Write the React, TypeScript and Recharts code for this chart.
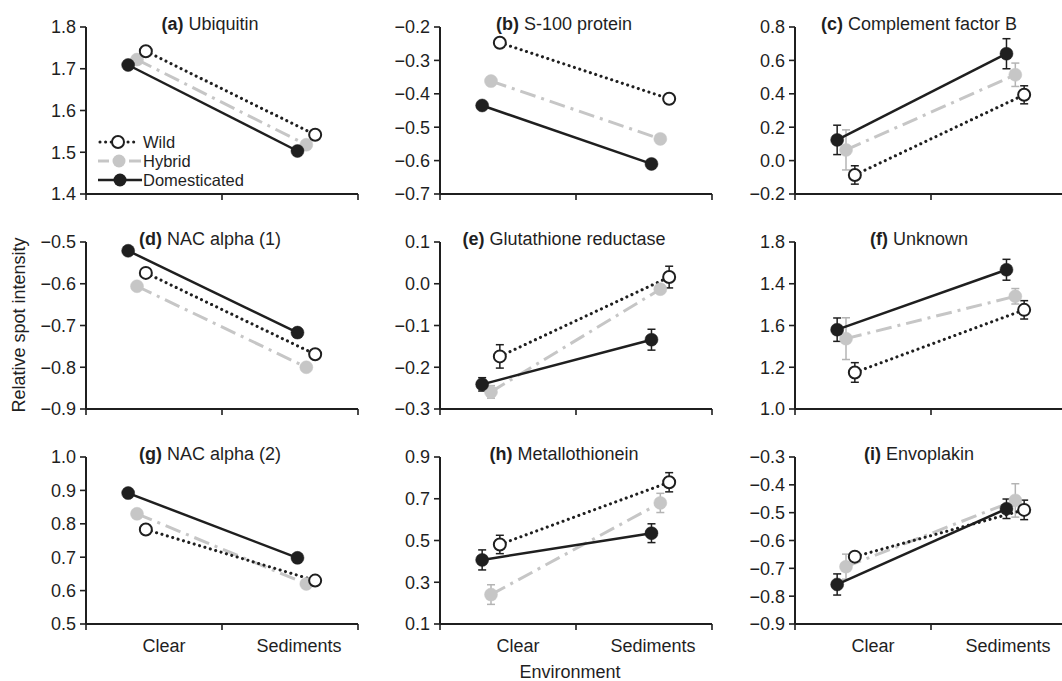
import React from 'react';
import { LineChart, Line, XAxis, YAxis, ErrorBar } from 'recharts';

const FONT = '"Liberation Sans", Arial, Helvetica, sans-serif';
const INK = '#1f1f1f';
const GREY = '#c6c6c6';

const environments = ['Clear', 'Sediments'];
const groups = ['Wild', 'Hybrid', 'Domesticated'];

const panelLetters = ['(a)', '(b)', '(c)', '(d)', '(e)', '(f)', '(g)', '(h)', '(i)'];
const panelNames = [
  'Ubiquitin',
  'S-100 protein',
  'Complement factor B',
  'NAC alpha (1)',
  'Glutathione reductase',
  'Unknown',
  'NAC alpha (2)',
  'Metallothionein',
  'Envoplakin',
];

// means per group as [Clear, Sediments], groups in order Wild, Hybrid, Domesticated
const meansA = [[1.742, 1.542], [1.722, 1.518], [1.709, 1.503]];
const meansB = [[-0.247, -0.415], [-0.362, -0.535], [-0.435, -0.61]];
const meansC = [[-0.086, 0.394], [0.064, 0.514], [0.124, 0.64]];
const meansD = [[-0.574, -0.769], [-0.606, -0.8], [-0.521, -0.717]];
const meansE = [[-0.174, 0.016], [-0.259, -0.013], [-0.241, -0.134]];
const meansF = [[1.175, 1.475], [1.337, 1.54], [1.38, 1.667]];
const meansG = [[0.783, 0.63], [0.83, 0.62], [0.892, 0.698]];
const meansH = [[0.481, 0.779], [0.241, 0.68], [0.407, 0.535]];
const meansI = [[-0.658, -0.49], [-0.694, -0.456], [-0.758, -0.486]];

// standard errors, same layout (panels without visible bars have none)
const errorsC = [[0.055, 0.054], [0.12, 0.07], [0.088, 0.09]];
const errorsE = [[0.028, 0.026], [0.015, 0.01], [0.016, 0.025]];
const errorsF = [[0.047, 0.044], [0.1, 0.037], [0.056, 0.05]];
const errorsH = [[0.044, 0.046], [0.047, 0.046], [0.048, 0.045]];
const errorsI = [[0.01, 0.035], [0.045, 0.06], [0.038, 0.035]];

const ticksA = [1.4, 1.5, 1.6, 1.7, 1.8];
const ticksB = [-0.7, -0.6, -0.5, -0.4, -0.3, -0.2];
const ticksC = [-0.2, 0, 0.2, 0.4, 0.6, 0.8];
const ticksD = [-0.9, -0.8, -0.7, -0.6, -0.5];
const ticksE = [-0.3, -0.2, -0.1, 0, 0.1];
const ticksF = [1.0, 1.2, 1.4, 1.6, 1.8];
const tickLabelsF = ['1.0', '1.2', '1.6', '1.4', '1.8'];
const ticksG = [0.5, 0.6, 0.7, 0.8, 0.9, 1.0];
const ticksH = [0.1, 0.3, 0.5, 0.7, 0.9];
const ticksI = [-0.9, -0.8, -0.7, -0.6, -0.5, -0.4, -0.3];

// x scale: 0..2, boundary ticks at 0, 1, 2
const envCentres = [0.375, 1.62];
const groupShift = [0.065, 0, -0.065];
const envLabelPos = [0.574, 1.566];

// layout of the 3x3 grid
const colAxisX = [86, 440, 795];
const rowAxisTop = [27, 242, 457];
const PLOT_W = 272;
const PLOT_H = 167;
const Y_AXIS_W = 60;
const TOP_PAD = 30;
const X_AXIS_H = 40;

const panels = [
  { means: meansA, errors: null, ticks: ticksA, labels: null },
  { means: meansB, errors: null, ticks: ticksB, labels: null },
  { means: meansC, errors: errorsC, ticks: ticksC, labels: null },
  { means: meansD, errors: null, ticks: ticksD, labels: null },
  { means: meansE, errors: errorsE, ticks: ticksE, labels: null },
  { means: meansF, errors: errorsF, ticks: ticksF, labels: tickLabelsF },
  { means: meansG, errors: null, ticks: ticksG, labels: null },
  { means: meansH, errors: errorsH, ticks: ticksH, labels: null },
  { means: meansI, errors: errorsI, ticks: ticksI, labels: null },
];

const seriesStyle = [
  {
    stroke: INK,
    strokeWidth: 3.1,
    strokeDasharray: '0.01 5.6',
    strokeLinecap: 'round' as const,
    dot: { r: 6, fill: '#fff', stroke: INK, strokeWidth: 2, strokeDasharray: 'none' },
    errStroke: INK,
  },
  {
    stroke: GREY,
    strokeWidth: 3,
    strokeDasharray: '16 6 3 6',
    strokeLinecap: 'butt' as const,
    dot: { r: 6.5, fill: GREY, stroke: GREY, strokeWidth: 0.5, strokeDasharray: 'none' },
    errStroke: '#b4b4b4',
  },
  {
    stroke: INK,
    strokeWidth: 2.5,
    strokeDasharray: undefined,
    strokeLinecap: 'butt' as const,
    dot: { r: 6.5, fill: INK, stroke: INK, strokeWidth: 0.5, strokeDasharray: 'none' },
    errStroke: INK,
  },
];

// grey first, then domesticated, then wild on top
const drawOrder = [1, 2, 0];

const fmt = (v: number) => v.toFixed(1).replace('-', '\u2212');

function EnvTick(props: any) {
  const { x, y, payload, showLabels } = props;
  const v = payload.value;
  const li = envLabelPos.findIndex((p) => Math.abs(p - v) < 1e-6);
  if (li >= 0) {
    if (!showLabels) return <g />;
    return (
      <text x={x} y={y + 28} textAnchor="middle" fontSize={18} fontFamily={FONT} fill={INK}>
        {environments[li]}
      </text>
    );
  }
  return <line x1={x} x2={x} y1={y} y2={y + 6} stroke={INK} strokeWidth={1.6} />;
}

function Panel({ index }: { index: number }) {
  const p = panels[index];
  const row = Math.floor(index / 3);
  const col = index % 3;
  const bottom = row === 2;
  const xTicks = bottom ? [0, envLabelPos[0], 1, envLabelPos[1], 2] : [0, 1, 2];
  const lo = p.ticks[0];
  const hi = p.ticks[p.ticks.length - 1];
  const yFmt = (v: number) => {
    const i = p.ticks.findIndex((t) => Math.abs(t - v) < 1e-9);
    return p.labels && i >= 0 ? p.labels[i] : fmt(v);
  };

  return (
    <div
      style={{
        position: 'absolute',
        left: colAxisX[col] - Y_AXIS_W,
        top: rowAxisTop[row] - TOP_PAD,
      }}
    >
      <LineChart
        width={Y_AXIS_W + PLOT_W + 4}
        height={TOP_PAD + PLOT_H + X_AXIS_H}
        margin={{ top: TOP_PAD, right: 4, left: 0, bottom: 0 }}
      >
        <XAxis
          dataKey="x"
          type="number"
          domain={[0, 2]}
          ticks={xTicks}
          interval={0}
          allowDataOverflow
          height={X_AXIS_H}
          tickSize={0}
          tickMargin={0}
          tickLine={false}
          axisLine={{ stroke: INK, strokeWidth: 2 }}
          tick={(tp: any) => <EnvTick {...tp} showLabels={bottom} />}
        />
        <YAxis
          type="number"
          domain={[lo, hi]}
          ticks={p.ticks}
          interval={0}
          allowDataOverflow
          width={Y_AXIS_W}
          tickSize={6}
          tickMargin={4}
          tickFormatter={yFmt}
          axisLine={{ stroke: INK, strokeWidth: 2 }}
          tickLine={{ stroke: INK, strokeWidth: 1.6 }}
          tick={{ fill: INK, fontSize: 18, fontFamily: FONT }}
        />
        {drawOrder.map((g) => {
          const s = seriesStyle[g];
          const data = envCentres.map((cx, e) => ({
            x: cx + groupShift[g],
            y: p.means[g][e],
            err: p.errors ? p.errors[g][e] : 0,
          }));
          return (
            <Line
              key={groups[g]}
              name={groups[g]}
              data={data}
              dataKey="y"
              type="linear"
              stroke={s.stroke}
              strokeWidth={s.strokeWidth}
              strokeDasharray={s.strokeDasharray}
              strokeLinecap={s.strokeLinecap}
              dot={s.dot}
              activeDot={false}
              isAnimationActive={false}
            >
              {p.errors && (
                <ErrorBar
                  dataKey="err"
                  direction="y"
                  width={4}
                  stroke={s.errStroke}
                  strokeWidth={1.5}
                  isAnimationActive={false}
                />
              )}
            </Line>
          );
        })}
      </LineChart>
    </div>
  );
}

function Overlay() {
  const legendRows = [142, 161, 180];
  return (
    <svg
      width={1062}
      height={681}
      style={{ position: 'absolute', left: 0, top: 0, pointerEvents: 'none' }}
      fontFamily={FONT}
    >
      {panelNames.map((name, i) => {
        const col = i % 3;
        const row = Math.floor(i / 3);
        return (
          <text
            key={name}
            x={colAxisX[col] + 124}
            y={rowAxisTop[row] + 3}
            textAnchor="middle"
            fontSize={18}
            fill={INK}
          >
            <tspan fontWeight="bold">{panelLetters[i]}</tspan>
            {'\u00a0' + name}
          </text>
        );
      })}

      <text transform="translate(25,325) rotate(-90)" textAnchor="middle" fontSize={18} fill={INK}>
        Relative spot intensity
      </text>
      <text x={570} y={678} textAnchor="middle" fontSize={18} fill={INK}>
        Environment
      </text>

      {/* legend, panel (a) */}
      <g>
        <line x1={100} x2={139} y1={legendRows[0]} y2={legendRows[0]} stroke={INK} strokeWidth={3.1} strokeDasharray="0.01 5.6" strokeLinecap="round" />
        <circle cx={118} cy={legendRows[0]} r={6} fill="#fff" stroke={INK} strokeWidth={2} />
        <line x1={98} x2={109} y1={legendRows[1]} y2={legendRows[1]} stroke={GREY} strokeWidth={3} />
        <line x1={129} x2={141} y1={legendRows[1]} y2={legendRows[1]} stroke={GREY} strokeWidth={3} />
        <circle cx={119} cy={legendRows[1]} r={6.5} fill={GREY} />
        <line x1={98} x2={142} y1={legendRows[2]} y2={legendRows[2]} stroke={INK} strokeWidth={2.5} />
        <circle cx={120} cy={legendRows[2]} r={6.5} fill={INK} />
        {groups.map((g, i) => (
          <text key={g} x={143} y={legendRows[i] + 6} fontSize={16.5} fill={INK}>
            {g}
          </text>
        ))}
      </g>
    </svg>
  );
}

export default function App() {
  return (
    <div
      style={{
        position: 'absolute',
        left: 0,
        top: 0,
        width: 1062,
        height: 681,
        background: '#fff',
        overflow: 'hidden',
        fontFamily: FONT,
      }}
    >
      {panels.map((_, i) => (
        <Panel key={i} index={i} />
      ))}
      <Overlay />
    </div>
  );
}
